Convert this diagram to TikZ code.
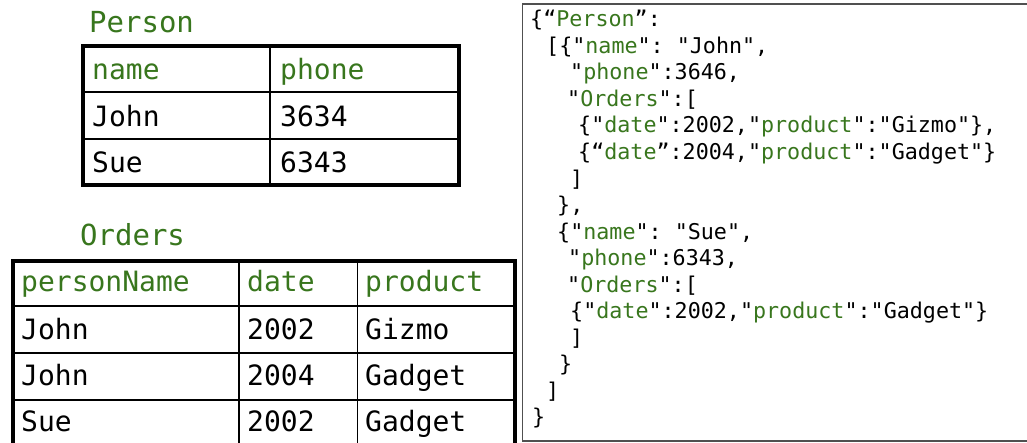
\documentclass[tikz,border=0pt]{standalone}
\usepackage{fontspec}
\setmonofont{DejaVu Sans Mono}
\definecolor{kgreen}{RGB}{56,118,29}
\definecolor{boxgray}{RGB}{80,80,80}
\newcommand\kw[1]{\textcolor{kgreen}{#1}}
\begin{document}
\begin{tikzpicture}[x=1pt,y=-1pt,
  cell/.style={anchor=base west,inner sep=0pt,font=\ttfamily\fontsize{28}{30}\selectfont},
  hcell/.style={cell,text=kgreen},
  ttl/.style={anchor=base west,inner sep=0pt,text=kgreen,font=\ttfamily\fontsize{29}{31}\selectfont},
  js/.style={anchor=base west,inner sep=0pt,font=\ttfamily\fontsize{21.7}{24}\selectfont},
  outerline/.style={line width=4pt},
  innerline/.style={line width=1.5pt},
  jsbox/.style={draw=boxgray,line width=1.5pt}]
\useasboundingbox (0,0) rectangle (1027,442);
\clip (0,0) rectangle (1027,442);

% ---------- Person table ----------
\node[ttl] (ptitle) at (89,32) {Person};
\draw[innerline] (83,92) -- (458.5,92);
\draw[innerline] (83,139) -- (458.5,139);
\draw[innerline] (270,45.5) -- (270,185);
\draw[outerline] (83,45.5) rectangle (458.5,185);
\node[hcell] (ph1) at (92,79) {name};
\node[hcell] (ph2) at (280,79) {phone};
\node[cell] (p11) at (92,126) {John};
\node[cell] (p12) at (280,126) {3634};
\node[cell] (p21) at (92,172.5) {Sue};
\node[cell] (p22) at (280,172.5) {6343};

% ---------- Orders table ----------
\node[ttl] (otitle) at (80,245) {Orders};
\draw[innerline] (12.5,306) -- (515,306);
\draw[innerline] (12.5,353) -- (515,353);
\draw[innerline] (12.5,400) -- (515,400);
\draw[innerline] (239,260.5) -- (239,450);
\draw[innerline] (357.5,260.5) -- (357.5,450);
\draw[outerline] (12.5,260.5) rectangle (515,447);
\node[hcell] (oh1) at (21,291.7) {personName};
\node[hcell] (oh2) at (247,291.7) {date};
\node[hcell] (oh3) at (365,291.7) {product};
\node[cell] (o11) at (21,339) {John};
\node[cell] (o12) at (247,339) {2002};
\node[cell] (o13) at (365,339) {Gizmo};
\node[cell] (o21) at (21,385.5) {John};
\node[cell] (o22) at (247,385.5) {2004};
\node[cell] (o23) at (365,385.5) {Gadget};
\node[cell] (o31) at (21,431) {Sue};
\node[cell] (o32) at (247,431) {2002};
\node[cell] (o33) at (365,431) {Gadget};

% ---------- JSON box ----------
\draw[jsbox] (522.5,4) rectangle (1035,441);
\node[js] (j1)  at (530,26.7)   {\{“\kw{Person}”:};
\node[js] (j2)  at (546,53.25)  {[\{"\kw{name}": "John",};
\node[js] (j3)  at (570,79.8)   {"\kw{phone}":3646,};
\node[js] (j4)  at (567,106.35) {"\kw{Orders}":[};
\node[js] (j5)  at (578,132.9)  {\{"\kw{date}":2002,"\kw{product}":"Gizmo"\},};
\node[js] (j6)  at (578,159.45) {\{“\kw{date}”:2004,"\kw{product}":"Gadget"\}};
\node[js] (j7)  at (570,186)    {]};
\node[js] (j8)  at (557,212.55) {\},};
\node[js] (j9)  at (557,239.1)  {\{"\kw{name}": "Sue",};
\node[js] (j10) at (568,265.65) {"\kw{phone}":6343,};
\node[js] (j11) at (567,292.2)  {"\kw{Orders}":[};
\node[js] (j12) at (570,318.75) {\{"\kw{date}":2002,"\kw{product}":"Gadget"\}};
\node[js] (j13) at (570,345.3)  {]};
\node[js] (j14) at (559,371.85) {\}};
\node[js] (j15) at (546,398.4)  {]};
\node[js] (j16) at (532,424.95) {\}};
\end{tikzpicture}
\end{document}
